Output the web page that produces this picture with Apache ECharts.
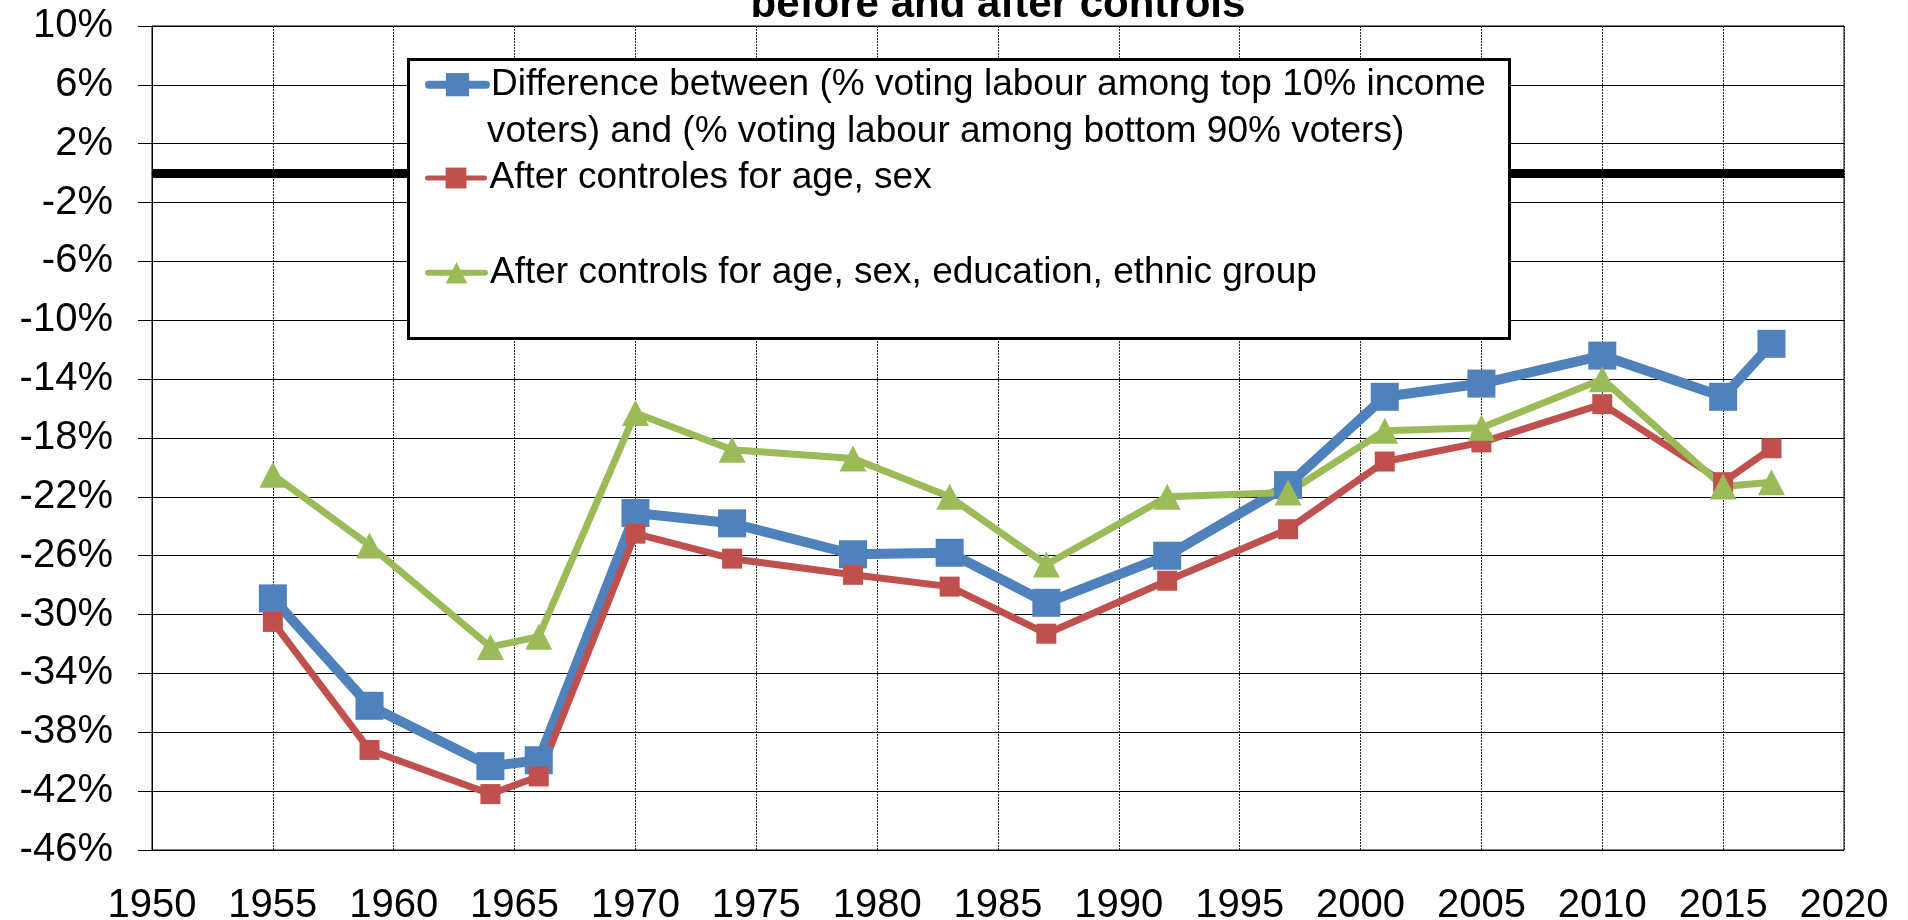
<!DOCTYPE html>
<html>
<head>
<meta charset="utf-8">
<script src="https://cdn.jsdelivr.net/npm/echarts@6/dist/echarts.min.js"></script>
<style>
html,body{margin:0;padding:0;background:#fff;}
#chart{width:1908px;height:920px;}
</style>
</head>
<body>
<div id="chart"></div>
<script>
var years = [1955,1959,1964,1966,1970,1974,1979,1983,1987,1992,1997,2001,2005,2010,2015,2017];
var diffRaw = [-28.9,-36.2,-40.3,-39.9,-23.1,-23.8,-25.9,-25.8,-29.2,-26.0,-21.2,-15.2,-14.3,-12.4,-15.2,-11.6];
var afterAgeSex = [-30.5,-39.2,-42.2,-41.0,-24.5,-26.2,-27.3,-28.1,-31.3,-27.7,-24.2,-19.6,-18.3,-15.7,-21.0,-18.7];
var afterAll = [-20.5,-25.3,-32.2,-31.5,-16.3,-18.8,-19.4,-22.0,-26.6,-22.0,-21.7,-17.5,-17.3,-14.0,-21.3,-21.0];

var seriesNames = [
  "Difference between (% voting labour among top 10% income\nvoters) and (% voting labour among bottom 90% voters)",
  "After controles for age, sex",
  "After controls for age, sex, education, ethnic group"
];
var titleText = "before and after controls";
var xMin = 1950, xMax = 2020, xStep = 5;
var yMin = -46, yMax = 10, yStep = 4;

function pairs(vals){ return years.map(function(y,i){ return [y, vals[i]]; }); }

var FONT = "'Liberation Sans', Arial, sans-serif";
var colors = ['#4F81BD', '#C0504D', '#9BBB59'];

var chart = echarts.init(document.getElementById('chart'), null, {renderer:'canvas'});

function mkLegend(name, top, ih, lw){
  return {
    data: [name],
    left: 425, top: top,
    orient: 'vertical',
    padding: 0,
    itemWidth: 57, itemHeight: ih,
    selectedMode: false,
    z: 20,
    lineStyle: { width: lw, cap: 'round' },
    formatter: function(n){ return n.split('\n')[0]; },
    textStyle: { fontFamily: FONT, fontSize: 37, color: '#000', lineHeight: 43, padding: [10, 0, 0, 0] }
  };
}

var option = {
  animation: false,
  backgroundColor: '#fff',
  grid: { left: 152, right: 64, top: 26, bottom: 70, outerBoundsMode: 'none', containLabel: false,
    show: true, borderColor: '#000', borderWidth: 1, backgroundColor: 'transparent' },
  xAxis: {
    type: 'value', min: xMin, max: xMax, interval: xStep,
    axisLine: { show: true, lineStyle: { color: '#000', width: 1 } },
    axisTick: { show: false },
    axisLabel: { fontFamily: FONT, fontSize: 40, color: '#000', margin: 36, formatter: function(v){ return String(v); } },
    splitLine: { show: true, lineStyle: { color: '#222', width: 1, type: [2,1] } }
  },
  yAxis: {
    type: 'value', min: yMin, max: yMax, interval: yStep,
    axisLine: { show: true, onZero: false, lineStyle: { color: '#000', width: 1 } },
    axisTick: { show: true, length: 14, inside: false, lineStyle: { color: '#000' } },
    axisLabel: { fontFamily: FONT, fontSize: 40, color: '#000', margin: 39, padding: [10, 0, 0, 0],
      formatter: function(v){ return v + '%'; } },
    splitLine: { show: true, lineStyle: { color: '#000', width: 1 } }
  },
  legend: [
    mkLegend(seriesNames[0], 58.2, 29, 8),
    mkLegend(seriesNames[1], 151.5, 26, 5),
    mkLegend(seriesNames[2], 246.2, 27, 6)
  ],
  graphic: [
    { type: 'rect', z: 10, shape: { x: 408.5, y: 59.5, width: 1101, height: 279 },
      style: { fill: '#fff', stroke: '#000', lineWidth: 3 } },
    { type: 'text', z: 21, style: { text: "voters) and (% voting labour among bottom 90% voters)", x: 487, y: 132,
      fontFamily: FONT, fontSize: 37, fill: '#000', verticalAlign: 'middle', align: 'left' } },
    { type: 'text', z: 21, style: { text: titleText, x: 998, y: 5,
      fontFamily: FONT, fontSize: 42, fontWeight: 'bold', fill: '#000', verticalAlign: 'middle', align: 'center' } }
  ],
  series: [
    {
      name: seriesNames[0], type: 'line', data: pairs(diffRaw),
      symbol: 'rect', symbolSize: 28,
      lineStyle: { color: colors[0], width: 10 },
      itemStyle: { color: colors[0] },
      markLine: {
        silent: true, symbol: 'none', label: { show: false },
        lineStyle: { color: '#000', width: 9, type: 'solid' },
        data: [{ yAxis: 0 }]
      }
    },
    {
      name: seriesNames[1], type: 'line', data: pairs(afterAgeSex),
      symbol: 'rect', symbolSize: 20,
      lineStyle: { color: colors[1], width: 7 },
      itemStyle: { color: colors[1] }
    },
    {
      name: seriesNames[2], type: 'line', data: pairs(afterAll),
      symbol: 'triangle', symbolSize: [27, 26],
      lineStyle: { color: colors[2], width: 7 },
      itemStyle: { color: colors[2] }
    }
  ]
};
chart.setOption(option);
</script>
</body>
</html>
